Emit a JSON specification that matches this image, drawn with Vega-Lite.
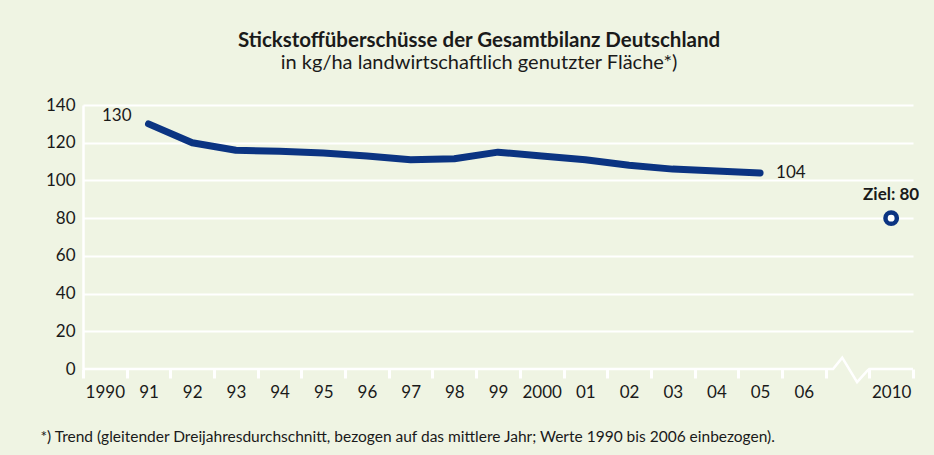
{
  "$schema": "https://vega.github.io/schema/vega-lite/v6.json",
  "autosize": {"type": "none"},
  "width": 830,
  "height": 264,
  "padding": {"left": 83, "top": 105, "right": 21, "bottom": 86},
  "background": "#eff4e3",
  "title": {
    "text": "Stickstoffüberschüsse der Gesamtbilanz Deutschland",
    "subtitle": "in kg/ha landwirtschaftlich genutzter Fläche*)",
    "font": "Lato",
    "fontSize": 20.5,
    "fontWeight": "bold",
    "subtitleFont": "Lato",
    "subtitleFontSize": 20,
    "color": "#1a1a1a",
    "subtitleColor": "#1a1a1a",
    "anchor": "middle",
    "dx": -19,
    "offset": 23,
    "subtitlePadding": 2
  },
  "config": {"view": {"stroke": null}, "font": "Lato"},
  "datasets": {
    "trend": [
      {"year": "1991", "value": 130},
      {"year": "1992", "value": 120},
      {"year": "1993", "value": 116},
      {"year": "1994", "value": 115.5},
      {"year": "1995", "value": 114.5},
      {"year": "1996", "value": 113},
      {"year": "1997", "value": 111},
      {"year": "1998", "value": 111.5},
      {"year": "1999", "value": 115},
      {"year": "2000", "value": 113},
      {"year": "2001", "value": 111},
      {"year": "2002", "value": 108},
      {"year": "2003", "value": 106},
      {"year": "2004", "value": 105},
      {"year": "2005", "value": 104}
    ],
    "goal": [{"year": "2010", "value": 80, "label": "Ziel: 80"}],
    "baseline": [
      {"pos": 0, "value": 0},
      {"pos": 17.17, "value": 0},
      {"pos": 17.38, "value": 6},
      {"pos": 17.72, "value": -7},
      {"pos": 17.95, "value": -1},
      {"pos": 18.0, "value": 0},
      {"pos": 19, "value": 0}
    ]
  },
  "resolve": {"scale": {"x": "independent"}},
  "layer": [
    {
      "data": {"name": "baseline"},
      "mark": {"type": "line", "color": "white", "strokeWidth": 2.5, "strokeJoin": "miter"},
      "encoding": {
        "x": {"field": "pos", "type": "quantitative", "scale": {"domain": [0, 19], "nice": false, "zero": false}, "axis": null},
        "y": {"field": "value", "type": "quantitative", "scale": {"domain": [0, 140]},
          "axis": {"values": [0, 20, 40, 60, 80, 100, 120, 140], "title": null, "domain": true, "domainColor": "white", "domainWidth": 2.5, "ticks": false, "grid": true, "gridColor": "white", "gridWidth": 2, "gridOpacity": {"condition": {"test": "datum.value === 0", "value": 0}, "value": 1}, "labelPadding": 8, "labelFontSize": 17, "labelColor": "#1a1a1a", "labelFont": "Lato"}}
      }
    },
    {
      "encoding": {
        "x": {"field": "year", "type": "ordinal",
          "scale": {"domain": ["1990","1991","1992","1993","1994","1995","1996","1997","1998","1999","2000","2001","2002","2003","2004","2005","2006","gap","2010"], "paddingInner": 0, "paddingOuter": 0},
          "axis": {"title": "*) Trend (gleitender Dreijahresdurchschnitt, bezogen auf das mittlere Jahr; Werte 1990 bis 2006 einbezogen).", "titleAnchor": "start", "titleAlign": "left", "titleX": -43, "titleY": 67, "titleBaseline": "middle", "titleFontSize": 15.5, "titleFontWeight": "normal", "titleColor": "#1a1a1a", "titleFont": "Lato",
            "domain": false, "tickBand": "extent", "ticks": true, "tickColor": "white", "tickWidth": 3, "tickSize": 9, "tickOpacity": 1, "labelAngle": 0, "labelPadding": 6, "labelFontSize": 17, "labelColor": "#1a1a1a", "labelFont": "Lato",
            "labelExpr": "(!datum.value || datum.value == 'gap') ? '' : (datum.value == '1990' || datum.value == '2000' || datum.value == '2010') ? datum.value : substring(datum.value, 2)"}},
        "y": {"field": "value", "type": "quantitative", "scale": {"domain": [0, 140]},
          "axis": {"values": [0, 20, 40, 60, 80, 100, 120, 140], "title": null, "domain": true, "domainColor": "white", "domainWidth": 2.5, "ticks": false, "grid": true, "gridColor": "white", "gridWidth": 2, "gridOpacity": {"condition": {"test": "datum.value === 0", "value": 0}, "value": 1}, "labelPadding": 8, "labelFontSize": 17, "labelColor": "#1a1a1a", "labelFont": "Lato"}}
      },
      "layer": [
        {
          "data": {"name": "trend"},
          "mark": {"type": "line", "color": "#0b3482", "strokeWidth": 7, "strokeCap": "round", "strokeJoin": "round"}
        },
        {
          "data": {"name": "trend"},
          "transform": [{"filter": "datum.year == '1991'"}],
          "mark": {"type": "text", "align": "right", "baseline": "middle", "dx": -17, "dy": -8, "fontSize": 17, "color": "#1a1a1a"},
          "encoding": {"text": {"field": "value", "type": "quantitative"}}
        },
        {
          "data": {"name": "trend"},
          "transform": [{"filter": "datum.year == '2005'"}],
          "mark": {"type": "text", "align": "left", "baseline": "middle", "dx": 16, "dy": 0, "fontSize": 17, "color": "#1a1a1a"},
          "encoding": {"text": {"field": "value", "type": "quantitative"}}
        },
        {
          "data": {"name": "goal"},
          "mark": {"type": "point", "filled": true, "fill": "white", "stroke": "#0b3482", "strokeWidth": 4.5, "size": 130, "opacity": 1}
        },
        {
          "data": {"name": "goal"},
          "mark": {"type": "text", "align": "center", "baseline": "middle", "dy": -23, "fontSize": 17, "fontWeight": "bold", "color": "#1a1a1a"},
          "encoding": {"text": {"field": "label", "type": "nominal"}}
        }
      ]
    }
  ]
}
